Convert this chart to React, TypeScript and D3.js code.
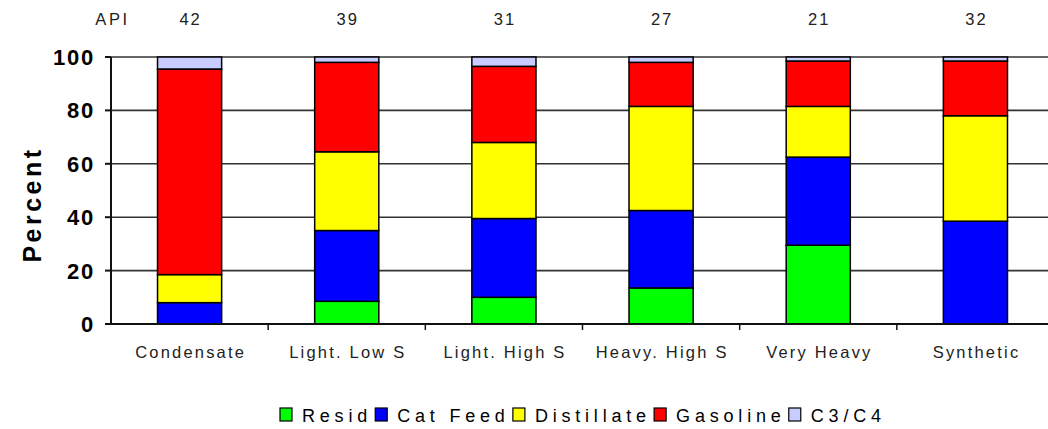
import React, { useEffect, useRef } from "react";
import * as d3 from "d3";

const categories = ["Condensate", "Light. Low S", "Light. High S", "Heavy. High S", "Very Heavy", "Synthetic"];
const apiValues = ["42", "39", "31", "27", "21", "32"];
const seriesNames = ["Resid", "Cat Feed", "Distillate", "Gasoline", "C3/C4"];
const seriesColors = ["#00ff00", "#0000ff", "#ffff00", "#ff0000", "#c8ccff"];
const resid = [0, 8.5, 10, 13.5, 29.5, 0];
const catFeed = [8, 26.5, 29.5, 29, 33, 38.5];
const distillate = [10.5, 29.5, 28.5, 39, 19, 39.5];
const gasoline = [77, 33.5, 28.5, 16.5, 17, 20.5];
const c3c4 = [4.5, 2, 3.5, 2, 1.5, 1.5];
const yTicks = [0, 20, 40, 60, 80, 100];

const W = 1048;
const H = 429;
const M = { left: 111, right: 1054, top: 57, bottom: 324 };

export default function App() {
  const ref = useRef<SVGSVGElement | null>(null);

  useEffect(() => {
    const svg = d3.select(ref.current);
    svg.selectAll("*").remove();

    const x = d3
      .scaleBand<string>()
      .domain(categories)
      .range([M.left, M.right])
      .paddingInner(0.592)
      .paddingOuter(0.296);
    const y = d3.scaleLinear().domain([0, 100]).range([M.bottom, M.top]);

    const rows = categories.map((c, i) => ({
      cat: c,
      "Resid": resid[i],
      "Cat Feed": catFeed[i],
      "Distillate": distillate[i],
      "Gasoline": gasoline[i],
      "C3/C4": c3c4[i],
    }));
    const stacked = d3.stack<any>().keys(seriesNames)(rows);

    // gridlines
    svg
      .append("g")
      .selectAll("line")
      .data(yTicks.filter((t) => t > 0))
      .join("line")
      .attr("x1", M.left)
      .attr("x2", W)
      .attr("y1", (d) => y(d))
      .attr("y2", (d) => y(d))
      .attr("stroke", "#333")
      .attr("stroke-width", 1.6);

    // bars
    const g = svg.append("g");
    stacked.forEach((layer, si) => {
      g.append("g")
        .selectAll("rect")
        .data(layer.filter((d) => d[1] - d[0] > 0))
        .join("rect")
        .attr("x", (d: any) => x(d.data.cat) as number)
        .attr("width", x.bandwidth())
        .attr("y", (d) => y(d[1]))
        .attr("height", (d) => y(d[0]) - y(d[1]))
        .attr("fill", seriesColors[si])
        .attr("stroke", "#000")
        .attr("stroke-width", 1.5);
    });

    // axes
    svg
      .append("line")
      .attr("x1", M.left)
      .attr("x2", M.left)
      .attr("y1", M.top)
      .attr("y2", M.bottom)
      .attr("stroke", "#111")
      .attr("stroke-width", 2);
    svg
      .append("line")
      .attr("x1", M.left - 6)
      .attr("x2", W)
      .attr("y1", M.bottom)
      .attr("y2", M.bottom)
      .attr("stroke", "#111")
      .attr("stroke-width", 2);

    // y ticks
    const yt = svg.append("g");
    yt.selectAll("line")
      .data(yTicks)
      .join("line")
      .attr("x1", M.left - 6)
      .attr("x2", M.left)
      .attr("y1", (d) => y(d))
      .attr("y2", (d) => y(d))
      .attr("stroke", "#111")
      .attr("stroke-width", 2);
    yt.selectAll("text")
      .data(yTicks)
      .join("text")
      .attr("x", M.left - 16)
      .attr("y", (d) => y(d) + 8)
      .attr("text-anchor", "end")
      .attr("font-family", "Liberation Sans, Arial, sans-serif")
      .attr("font-weight", "bold")
      .attr("font-size", 22)
      .attr("letter-spacing", 1.8)
      .attr("fill", "#000")
      .text((d) => String(d));

    // x ticks at band boundaries
    const step = x.step();
    const bounds = d3.range(1, categories.length + 1).map((i) => M.left + i * step);
    svg
      .append("g")
      .selectAll("line")
      .data(bounds)
      .join("line")
      .attr("x1", (d) => d)
      .attr("x2", (d) => d)
      .attr("y1", M.bottom)
      .attr("y2", M.bottom + 6)
      .attr("stroke", "#111")
      .attr("stroke-width", 1.5);

    // category labels
    svg
      .append("g")
      .selectAll("text")
      .data(categories)
      .join("text")
      .attr("x", (d) => (x(d) as number) + x.bandwidth() / 2 + 1.1)
      .attr("y", 358)
      .attr("text-anchor", "middle")
      .attr("font-family", "Liberation Sans, Arial, sans-serif")
      .attr("font-size", 16.5)
      .attr("letter-spacing", 2.2)
      .attr("fill", "#222")
      .text((d) => d);

    // API labels
    const api = svg.append("g");
    api
      .append("text")
      .attr("x", M.left + 1.5)
      .attr("y", 25)
      .attr("text-anchor", "middle")
      .attr("font-family", "Liberation Sans, Arial, sans-serif")
      .attr("font-size", 16.5)
      .attr("letter-spacing", 2.6)
      .attr("fill", "#222")
      .text("API");
    api
      .selectAll("text.v")
      .data(apiValues)
      .join("text")
      .attr("class", "v")
      .attr("x", (d, i) => (x(categories[i]) as number) + x.bandwidth() / 2 + 1)
      .attr("y", 25)
      .attr("text-anchor", "middle")
      .attr("font-family", "Liberation Sans, Arial, sans-serif")
      .attr("font-size", 16.5)
      .attr("letter-spacing", 2)
      .attr("fill", "#222")
      .text((d) => d);

    // y axis title
    svg
      .append("text")
      .attr("transform", `translate(41, ${(M.top + M.bottom) / 2 + 14}) rotate(-90)`)
      .attr("text-anchor", "middle")
      .attr("font-family", "Liberation Sans, Arial, sans-serif")
      .attr("font-weight", "bold")
      .attr("font-size", 25)
      .attr("letter-spacing", 3.5)
      .attr("fill", "#000")
      .text("Percent");

    // legend
    const lg = svg.append("g");
    let cx = 280;
    const ly = 408;
    const ls = 4.8;
    seriesNames.forEach((name, i) => {
      lg.append("rect")
        .attr("x", cx)
        .attr("y", ly)
        .attr("width", 12)
        .attr("height", 13)
        .attr("fill", seriesColors[i])
        .attr("stroke", "#000")
        .attr("stroke-width", 1.2);
      const t = lg
        .append("text")
        .attr("x", cx + 22)
        .attr("y", ly + 14)
        .attr("font-family", "Liberation Sans, Arial, sans-serif")
        .attr("font-size", 18)
        .attr("letter-spacing", ls)
        .attr("fill", "#000")
        .text(name);
      const w = (t.node() as SVGTextElement).getComputedTextLength();
      cx = cx + 22 + w - ls + 8;
    });
  }, []);

  return (
    <svg
      ref={ref}
      width={W}
      height={H}
      style={{ position: "absolute", left: 0, top: 0, background: "#fff" }}
    />
  );
}
